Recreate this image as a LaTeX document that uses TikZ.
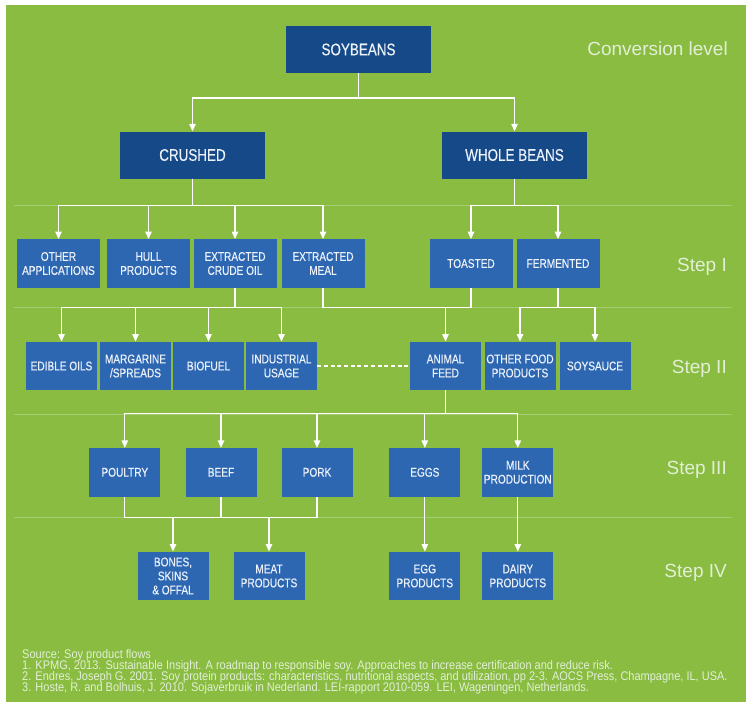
\documentclass[tikz,border=0pt]{standalone}
\usepackage{fontspec}
\setmainfont{Liberation Sans}
\newfontfamily\condf[FakeStretch=0.88]{Liberation Sans}
\newfontfamily\condb[FakeStretch=0.8,FakeBold=0.4]{Liberation Sans}
\usetikzlibrary{arrows.meta}
\definecolor{bggreen}{RGB}{137,188,65}
\definecolor{darkblue}{RGB}{21,73,135}
\definecolor{boxblue}{RGB}{46,103,177}
\definecolor{sepgreen}{RGB}{163,204,115}
\definecolor{boxtext}{RGB}{236,241,250}
\definecolor{lbltext}{RGB}{226,239,214}
\begin{document}
\begin{tikzpicture}[x=1pt,y=-1pt,
  darkbox/.style={fill=darkblue, text=boxtext, minimum width=145pt, minimum height=47pt, inner sep=0pt, align=center, font=\condb\fontsize{16.8}{18}\selectfont},
  box/.style={fill=boxblue, text=boxtext, minimum height=48.5pt, inner sep=0pt, align=center, font=\condb\fontsize{12.6}{14}\selectfont},
  wA/.style={minimum width=83pt},
  wB/.style={minimum width=71pt},
  ln/.style={draw=white, line width=1.3pt},
  arr/.style={ln, -{Triangle[width=6.5pt,length=7.5pt]}},
  dsh/.style={draw=white, line width=1.3pt, dash pattern=on 4pt off 2.7pt},
  sepline/.style={draw=sepgreen, line width=0.9pt},
  lvl/.style={text=lbltext, font=\fontsize{19}{22}\selectfont, anchor=base east, inner sep=0pt},
  src/.style={text=lbltext, font=\condf\fontsize{12.5}{13}\selectfont, anchor=base west, inner sep=0pt}]

\useasboundingbox (0,0) rectangle (746,710);
\fill[bggreen] (6,5) rectangle (746,702);

% separator lines
\coordinate (s1a) at (14,205.7); \coordinate (s1b) at (732,205.7);
\coordinate (s2a) at (14,307.7); \coordinate (s2b) at (732,307.7);
\coordinate (s3a) at (14,414);   \coordinate (s3b) at (732,414);
\coordinate (s4a) at (14,517.3); \coordinate (s4b) at (732,517.3);
\draw[sepline] (s1a) -- (s1b);
\draw[sepline] (s2a) -- (s2b);
\draw[sepline] (s3a) -- (s3b);
\draw[sepline] (s4a) -- (s4b);

% level labels
\node[lvl] (lv0) at (728,55) {Conversion level};
\node[lvl] (lv1) at (727,271) {Step I};
\node[lvl] (lv2) at (727,373) {Step II};
\node[lvl] (lv3) at (727,474) {Step III};
\node[lvl] (lv4) at (727,577) {Step IV};

% top
\node[darkbox] (soy) at (358.5,49.5) {SOYBEANS};
\node[darkbox] (crushed) at (192.5,155) {CRUSHED};
\node[darkbox] (whole) at (514.5,155) {WHOLE BEANS};

% step I
\node[box,wA] (other) at (58.5,263.5) {OTHER\\APPLICATIONS};
\node[box,wA] (hull) at (148.5,263.5) {HULL\\PRODUCTS};
\node[box,wA] (crude) at (235,263.5) {EXTRACTED\\CRUDE OIL};
\node[box,wA] (meal) at (323,263.5) {EXTRACTED\\MEAL};
\node[box,wA] (toasted) at (471,263.5) {TOASTED};
\node[box,wA] (ferm) at (558,263.5) {FERMENTED};

% step II
\node[box,wB] (edible) at (61.5,366) {EDIBLE OILS};
\node[box,wB] (marg) at (135.5,366) {MARGARINE\\/SPREADS};
\node[box,wB] (bio) at (208.5,366) {BIOFUEL};
\node[box,wB] (indus) at (281.5,366) {INDUSTRIAL\\USAGE};
\node[box,wB] (feed) at (445.5,366) {ANIMAL\\FEED};
\node[box,wB] (ofood) at (520,366) {OTHER FOOD\\PRODUCTS};
\node[box,wB] (soysauce) at (595,366) {SOYSAUCE};

% step III
\node[box,wB] (poultry) at (124.8,472.3) {POULTRY};
\node[box,wB] (beef) at (221,472.3) {BEEF};
\node[box,wB] (pork) at (317,472.3) {PORK};
\node[box,wB] (eggs) at (424.8,472.3) {EGGS};
\node[box,wB] (milk) at (517.8,472.3) {MILK\\PRODUCTION};

% step IV
\node[box,wB] (bones) at (173,576) {BONES,\\SKINS\\\& OFFAL};
\node[box,wB] (meat) at (269,576) {MEAT\\PRODUCTS};
\node[box,wB] (eggprod) at (424.8,576) {EGG\\PRODUCTS};
\node[box,wB] (dairy) at (517.8,576) {DAIRY\\PRODUCTS};

% bars
\coordinate (b0) at (0,98);
\coordinate (b1) at (0,205.7);
\coordinate (b2) at (0,307.3);
\coordinate (b3) at (0,413.6);
\coordinate (b4) at (0,517.3);

% connectors
\draw[arr] (soy.south) |- (crushed.north |- b0) -- (crushed.north);
\draw[arr] (soy.south) |- (whole.north |- b0) -- (whole.north);

\draw[arr] (crushed.south) |- (other.north |- b1) -- (other.north);
\draw[arr] (crushed.south |- b1) -| (hull.north);
\draw[arr] (crushed.south) |- (crude.north |- b1) -- (crude.north);
\draw[arr] (crushed.south) |- (meal.north |- b1) -- (meal.north);

\draw[arr] (whole.south) |- (toasted.north |- b1) -- (toasted.north);
\draw[arr] (whole.south) |- (ferm.north |- b1) -- (ferm.north);

\draw[arr] (crude.south) |- (edible.north |- b2) -- (edible.north);
\draw[arr] (crude.south) |- (marg.north |- b2) -- (marg.north);
\draw[arr] (crude.south) |- (bio.north |- b2) -- (bio.north);
\draw[arr] (crude.south) |- (indus.north |- b2) -- (indus.north);

\draw[ln] (meal.south) |- (toasted.south |- b2) -- (toasted.south);
\draw[arr] (feed.north |- b2) -- (feed.north);

\draw[arr] (ferm.south) |- (ofood.north |- b2) -- (ofood.north);
\draw[arr] (ferm.south) |- (soysauce.north |- b2) -- (soysauce.north);

\draw[dsh] (indus.east) -- (feed.west);

\draw[arr] (feed.south) |- (poultry.north |- b3) -- (poultry.north);
\draw[arr] (feed.south) |- (beef.north |- b3) -- (beef.north);
\draw[arr] (feed.south) |- (pork.north |- b3) -- (pork.north);
\draw[arr] (feed.south) |- (eggs.north |- b3) -- (eggs.north);
\draw[arr] (feed.south) |- (milk.north |- b3) -- (milk.north);

\draw[ln] (poultry.south) |- (pork.south |- b4) -- (pork.south);
\draw[ln] (beef.south) -- (beef.south |- b4);
\draw[arr] (bones.north |- b4) -- (bones.north);
\draw[arr] (meat.north |- b4) -- (meat.north);

\draw[arr] (eggs.south) -- (eggprod.north);
\draw[arr] (milk.south) -- (dairy.north);

% sources
\node[src] (src0) at (22,658.3) {Source: Soy product flows};
\node[src] (src1) at (22,669.4) {1. KPMG, 2013. Sustainable Insight. A roadmap to responsible soy. Approaches to increase certification and reduce risk.};
\node[src] (src2) at (22,680.5) {2. Endres, Joseph G. 2001. Soy protein products: characteristics, nutritional aspects, and utilization, pp 2-3. AOCS Press, Champagne, IL, USA.};
\node[src] (src3) at (22,691.6) {3. Hoste, R. and Bolhuis, J. 2010. Sojaverbruik in Nederland. LEI-rapport 2010-059. LEI, Wageningen, Netherlands.};
\end{tikzpicture}
\end{document}
